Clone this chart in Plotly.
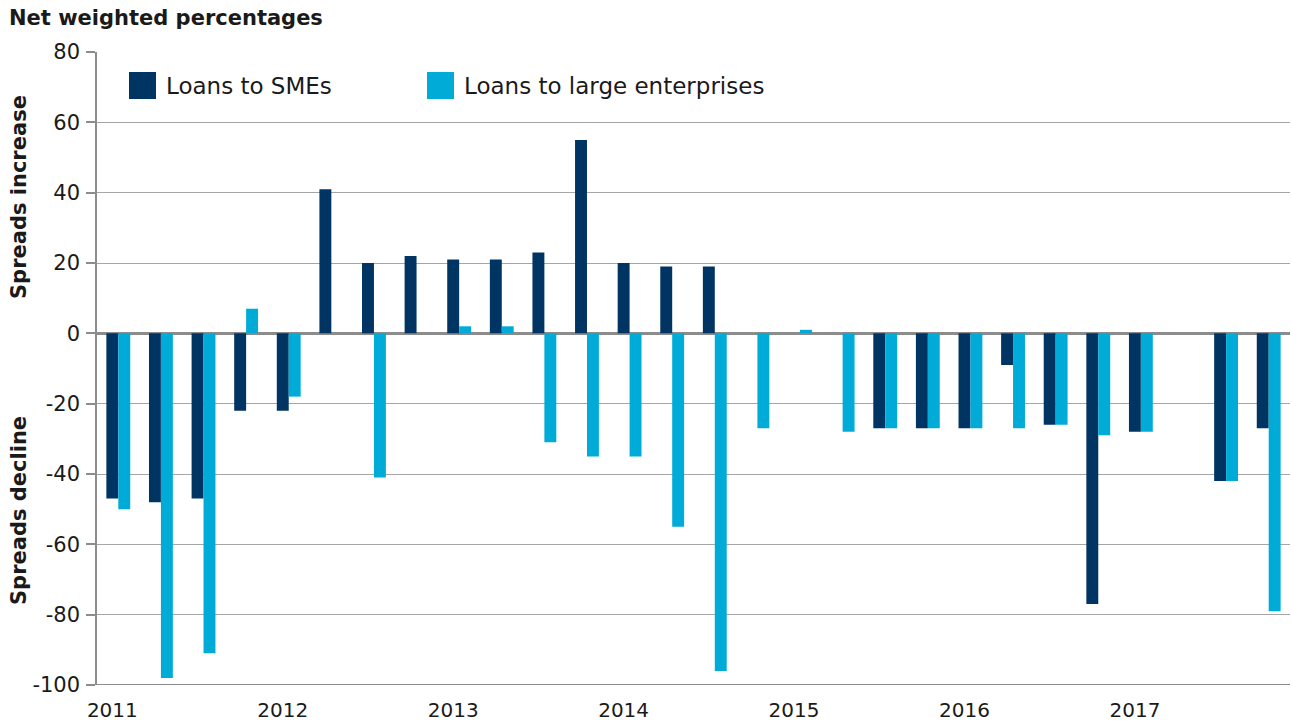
import plotly.graph_objects as go

quarters = [f"{y} Q{q}" for y in range(2011, 2018) for q in range(1, 5)]
sme = [-47, -48, -47, -22, -22, 41, 20, 22, 21, 21, 23, 55, 20, 19, 19, 0,
       0, 0, -27, -27, -27, -9, -26, -77, -28, 0, -42, -27]
large = [-50, -98, -91, 7, -18, 0, -41, 0, 2, 2, -31, -35, -35, -55, -96, -27,
         1, -28, -27, -27, -27, -27, -26, -29, -28, 0, -42, -79]
year_labels = ["2011", "2012", "2013", "2014", "2015", "2016", "2017"]
y_ticks = [80, 60, 40, 20, 0, -20, -40, -60, -80, -100]
y_tick_text = [str(v) for v in y_ticks]

DARK = "#003462"
LIGHT = "#00acd7"
FONT = "'DejaVu Sans', sans-serif"
TXT = "#1a1a1a"

xs = list(range(len(quarters)))

fig = go.Figure()
fig.add_trace(go.Bar(x=xs, y=sme, name="Loans to SMEs", marker=dict(color=DARK, line=dict(width=0)),
                     customdata=quarters, hovertemplate="%{customdata}: %{y}<extra>SMEs</extra>"))
fig.add_trace(go.Bar(x=xs, y=large, name="Loans to large enterprises", marker=dict(color=LIGHT, line=dict(width=0)),
                     customdata=quarters, hovertemplate="%{customdata}: %{y}<extra>Large</extra>"))

L, R, T, B = 97, 2, 52, 37
W, H = 1292, 722
pw, ph = W - L - R, H - T - B

def px_x(p):
    return (p - L) / pw

def px_y(p):
    return (H - B - p) / ph

fig.update_layout(
    width=W, height=H,
    margin=dict(l=L, r=R, t=T, b=B),
    paper_bgcolor="white", plot_bgcolor="white",
    barmode="group", bargap=0.44, bargroupgap=0,
    showlegend=False,
    font=dict(family=FONT, color=TXT),
    xaxis=dict(
        range=[-0.5, len(quarters) - 0.5],
        tickmode="array",
        tickvals=[i * 4 - 0.14 for i in range(len(year_labels))],
        ticktext=year_labels,
        ticks="", showgrid=False, zeroline=False, showline=False,
        tickfont=dict(size=20, family=FONT, color=TXT),
        ticklabelstandoff=11, automargin=False,
    ),
    yaxis=dict(
        range=[-100, 80],
        tickmode="array", tickvals=y_ticks, ticktext=y_tick_text,
        ticks="outside", ticklen=9, tickcolor="#8c8c8c", tickwidth=1.5,
        showgrid=True, gridcolor="#a6a6a6", gridwidth=1,
        zeroline=True, zerolinecolor="#8c8c8c", zerolinewidth=2.5,
        showline=True, linecolor="#8c8c8c", linewidth=1.5,
        tickfont=dict(size=21, family=FONT, color=TXT),
        ticklabelstandoff=2, automargin=False,
    ),
)

# bottom border at -100
fig.add_shape(type="line", xref="paper", yref="y", x0=0, x1=1, y0=-100, y1=-100,
              line=dict(color="#8c8c8c", width=2))

# legend drawn as swatches + labels
legend_items = [("Loans to SMEs", DARK, 129), ("Loans to large enterprises", LIGHT, 427)]
for label, color, x0 in legend_items:
    fig.add_shape(type="rect", xref="paper", yref="paper",
                  x0=px_x(x0), x1=px_x(x0 + 27), y0=px_y(99), y1=px_y(72),
                  fillcolor=color, line=dict(width=0))
    fig.add_annotation(xref="paper", yref="paper", x=px_x(x0 + 35), y=px_y(86),
                       text=label, showarrow=False, xanchor="left", yanchor="middle",
                       font=dict(size=23, family=FONT, color=TXT))

# headline and side labels
fig.add_annotation(xref="paper", yref="paper", x=px_x(7), y=px_y(18),
                   text="<b>Net weighted percentages</b>", showarrow=False,
                   xanchor="left", yanchor="middle", font=dict(size=21, family=FONT, color=TXT))
fig.add_annotation(xref="paper", yref="paper", x=px_x(19), y=px_y(197),
                   text="<b>Spreads increase</b>", showarrow=False, textangle=-90,
                   xanchor="center", yanchor="middle", font=dict(size=21, family=FONT, color=TXT))
fig.add_annotation(xref="paper", yref="paper", x=px_x(19), y=px_y(511),
                   text="<b>Spreads decline</b>", showarrow=False, textangle=-90,
                   xanchor="center", yanchor="middle", font=dict(size=21, family=FONT, color=TXT))

fig.write_html("out.html")
